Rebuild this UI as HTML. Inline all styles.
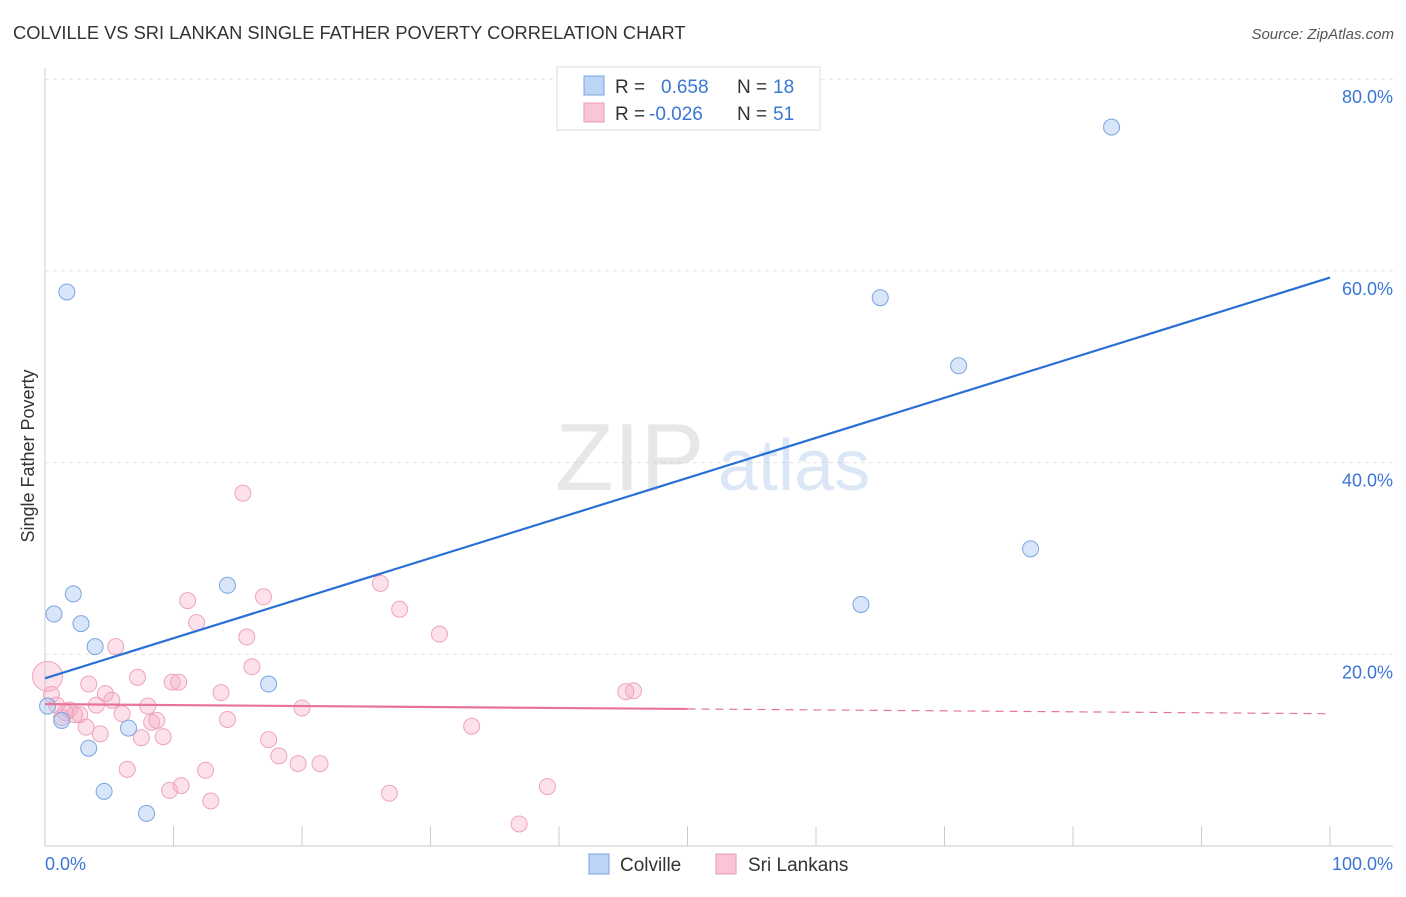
<!DOCTYPE html>
<html><head><meta charset="utf-8"><style>
body{margin:0;background:#fff;font-family:"Liberation Sans",sans-serif}
svg text{font-family:"Liberation Sans",sans-serif}
</style></head><body>
<svg id="chart" width="1406" height="892" xmlns="http://www.w3.org/2000/svg">
<text x="13" y="39" font-size="18.3" fill="#333">COLVILLE VS SRI LANKAN SINGLE FATHER POVERTY CORRELATION CHART</text>
<text x="1394" y="39" font-size="15" fill="#555" text-anchor="end" font-style="italic">Source: ZipAtlas.com</text>
<g id="grid"></g>
<g opacity="0.35">
<text x="555" y="490" font-size="96" fill="#bbb" font-family="Liberation Serif">ZIP</text>
<text x="718" y="490" font-size="72" fill="#9bbbe6">atlas</text>
</g>
<text transform="translate(34,456) rotate(-90)" font-size="18" fill="#333" text-anchor="middle">Single Father Poverty</text>
<g id="marks"></g>
<g>
<rect x="557" y="67" width="263" height="63" fill="#fff" stroke="#ddd"/>
<rect x="584" y="76" width="20" height="19" fill="#bcd4f5" stroke="#7aa5e0"/>
<rect x="584" y="103" width="20" height="19" fill="#f9c6d6" stroke="#e99ab4"/>
<text x="615" y="93" font-size="19" fill="#333">R = </text><text x="661" y="93" font-size="19" fill="#3a76d6">0.658</text>
<text x="737" y="93" font-size="19" fill="#333">N = </text><text x="773" y="93" font-size="19" fill="#3a76d6">18</text>
<text x="615" y="120" font-size="19" fill="#333">R = </text><text x="649" y="120" font-size="19" fill="#3a76d6">-0.026</text>
<text x="737" y="120" font-size="19" fill="#333">N = </text><text x="773" y="120" font-size="19" fill="#3a76d6">51</text>
</g>
<g>
<rect x="589" y="854" width="20" height="20" fill="#bcd4f5" stroke="#7aa5e0"/>
<text x="620" y="871" font-size="19" fill="#333">Colville</text>
<rect x="716" y="854" width="20" height="20" fill="#f9c6d6" stroke="#e99ab4"/>
<text x="748" y="871" font-size="19" fill="#333">Sri Lankans</text>
</g>
</svg>
<script>
const yTicks=[20,40,60,80];
const yTickLabels=["20.0%","40.0%","60.0%","80.0%"];
const xTicks=[0,10,20,30,40,50,60,70,80,90,100];
const colvilleX=[1.7,0.7,2.2,2.8,3.9,1.3,3.4,4.6,7.9,6.5,14.2,17.4,0.2,65.0,71.1,83.0,76.7,63.5];
const colvilleY=[57.8,24.2,26.3,23.2,20.8,13.1,10.2,5.7,3.4,12.3,27.2,16.9,14.6,57.2,50.1,75.0,31.0,25.2];
const sriX=[0.2,0.5,0.9,1.3,1.9,2.3,2.7,3.2,3.4,4.0,4.3,4.7,5.2,5.5,6.0,6.4,7.2,7.5,8.0,8.3,8.7,9.2,9.9,10.4,9.7,10.6,11.1,11.8,12.5,12.9,13.7,14.2,15.4,15.7,16.1,17.0,17.4,18.2,19.7,20.0,21.4,26.1,26.8,27.6,30.7,33.2,36.9,39.1,45.2,45.8,1.6];
const sriY=[17.7,15.8,14.7,13.4,14.2,13.7,13.7,12.4,16.9,14.7,11.7,15.9,15.2,20.8,13.8,8.0,17.6,11.3,14.6,12.9,13.1,11.4,17.1,17.1,5.8,6.3,25.6,23.3,7.9,4.7,16.0,13.2,36.8,21.8,18.7,26.0,11.1,9.4,8.6,14.4,8.6,27.4,5.5,24.7,22.1,12.5,2.3,6.2,16.1,16.2,13.9];
const colvilleTrend=[17.5,59.3];
const sriTrend=[14.8,13.8];
const sx=v=>45+v*12.85, sy=v=>846-v*9.585;
const NS="http://www.w3.org/2000/svg";
function mk(t,a,p){const e=document.createElementNS(NS,t);for(const k in a)e.setAttribute(k,a[k]);(p||document.getElementById('chart')).appendChild(e);return e;}
const grid=document.getElementById('grid'),marks=document.getElementById('marks');
yTicks.forEach((v,i)=>{
 const l=mk('line',{x1:45,x2:1393,y1:sy(v),y2:sy(v),stroke:'#e2e2e2','stroke-dasharray':'4,4'},grid);
 
 
 const t=mk('text',{x:1393,y:sy(v)+24,'font-size':18,fill:'#3a76d6','text-anchor':'end'},grid);
 t.textContent=yTickLabels[i];
 
 
});
mk('line',{x1:45,x2:45,y1:68,y2:846,stroke:'#ccc'},grid);
mk('line',{x1:45,x2:1393,y1:846,y2:846,stroke:'#ccc'},grid);
xTicks.forEach(v=>{const l=mk('line',{x1:sx(v),x2:sx(v),y1:826,y2:846,stroke:'#ccc'},grid);
 
 });
let t0=mk('text',{x:45,y:870,'font-size':18,fill:'#3a76d6'},grid);t0.textContent='0.0%';


let t1=mk('text',{x:1393,y:870,'font-size':18,fill:'#3a76d6','text-anchor':'end'},grid);t1.textContent='100.0%';


sriX.forEach((x,i)=>{const c=mk('circle',{cx:sx(x),cy:sy(sriY[i]),r:i==0?15:8,fill:'rgba(246,170,196,0.35)',stroke:'#eea3bd','stroke-width':1},marks);
 
 });
colvilleX.forEach((x,i)=>{const c=mk('circle',{cx:sx(x),cy:sy(colvilleY[i]),r:8,fill:'rgba(170,198,240,0.45)',stroke:'#7aa5e0','stroke-width':1},marks);
 
 });
const bl=mk('line',{x1:sx(0),y1:sy(colvilleTrend[0]),x2:sx(100),y2:sy(colvilleTrend[1]),stroke:'#2a6fd6','stroke-width':2.2},marks);


const mid=sriTrend[0]+(sriTrend[1]-sriTrend[0])*0.5;
const pl=mk('line',{x1:sx(0),y1:sy(sriTrend[0]),x2:sx(50),y2:sy(mid),stroke:'#e8749c','stroke-width':2.2},marks);


const pd=mk('line',{x1:sx(50),y1:sy(mid),x2:sx(100),y2:sy(sriTrend[1]),stroke:'#e8749c','stroke-width':1.2,'stroke-dasharray':'8,6'},marks);


</script>
</body></html>
